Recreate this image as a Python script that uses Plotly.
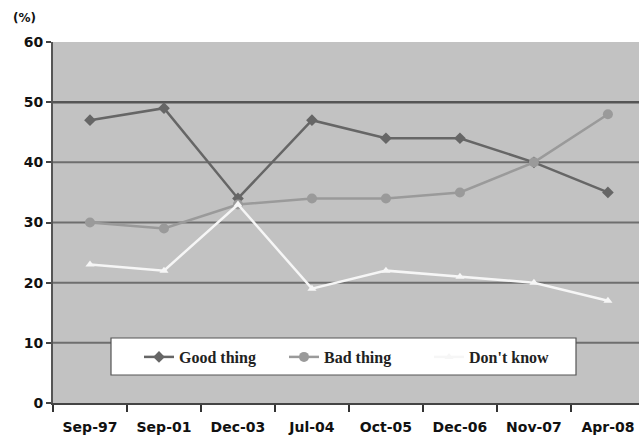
import plotly.graph_objects as go

# Survey periods
categories = ["Sep-97", "Sep-01", "Dec-03", "Jul-04", "Oct-05", "Dec-06", "Nov-07", "Apr-08"]

# Share of respondents (%)
good_thing = [47, 49, 34, 47, 44, 44, 40, 35]
bad_thing = [30, 29, 33, 34, 34, 35, 40, 48]
dont_know = [23, 22, 33, 19, 22, 21, 20, 17]

y_ticks = [0, 10, 20, 30, 40, 50, 60]
grid_levels = [10, 20, 30, 40, 50]

fig = go.Figure()

fig.add_trace(go.Scatter(
    x=categories, y=good_thing, name="Good thing", mode="lines+markers",
    line=dict(color="#666666", width=2.5),
    marker=dict(symbol="diamond", size=9, color="#666666"),
))
fig.add_trace(go.Scatter(
    x=categories, y=bad_thing, name="Bad thing", mode="lines+markers",
    line=dict(color="#9a9a9a", width=2.5),
    marker=dict(symbol="circle", size=10, color="#9a9a9a"),
))
fig.add_trace(go.Scatter(
    x=categories, y=dont_know, name="Don't know", mode="lines+markers",
    line=dict(color="#f6f6f6", width=2.5),
    marker=dict(symbol="triangle-up", size=8, color="#f6f6f6"),
))

# Horizontal gridlines (the top edge carries none)
for lvl in grid_levels:
    fig.add_shape(
        type="line", xref="paper", yref="y", x0=0, x1=1, y0=lvl, y1=lvl,
        line=dict(color="#555555" if lvl == 50 else "#6e6e6e", width=2.5 if lvl == 50 else 2),
        layer="below",
    )

# White frame behind the legend entries
fig.add_shape(
    type="rect", xref="paper", yref="paper",
    x0=(111 - 53) / 586, x1=(576 - 53) / 586,
    y0=(403 - 375) / 361, y1=(403 - 338) / 361,
    fillcolor="white", line=dict(color="#555555", width=1.2), layer="above",
)

fig.add_annotation(
    text="(%)", xref="paper", yref="paper", x=(11 - 53) / 586, y=(403 - 18) / 361,
    xanchor="left", yanchor="middle", showarrow=False,
    font=dict(family="DejaVu Sans", size=12, color="#111111", weight="bold"),
)

axis_font = dict(family="DejaVu Sans", size=14, color="#111111", weight="bold")

fig.update_layout(
    width=639, height=443,
    margin=dict(l=53, r=0, t=42, b=40),
    paper_bgcolor="white",
    plot_bgcolor="#c2c2c2",
    showlegend=True,
    legend=dict(
        orientation="h", x=(139 - 53) / 586, y=(403 - 357) / 361,
        xanchor="left", yanchor="middle",
        bgcolor="rgba(0,0,0,0)", borderwidth=0,
        font=dict(family="Liberation Serif", size=16, color="#222222", weight="bold"),
        entrywidth=100, itemwidth=30,
        traceorder="normal",
    ),
    xaxis=dict(
        type="category", range=[-0.5, 7.42],
        showgrid=False, zeroline=False,
        showline=True, linecolor="#444444", linewidth=2,
        ticks="outside", tickson="boundaries", ticklen=7, tickcolor="#333333", tickwidth=2,
        ticklabelstandoff=10,
        tickfont=axis_font,
    ),
    yaxis=dict(
        range=[0, 60], tickvals=y_ticks,
        showgrid=False, zeroline=False,
        showline=True, linecolor="#555555", linewidth=2,
        ticks="outside", ticklen=5, tickcolor="#444444", tickwidth=2,
        tickfont=axis_font,
    ),
)

fig.write_html("out.html")
